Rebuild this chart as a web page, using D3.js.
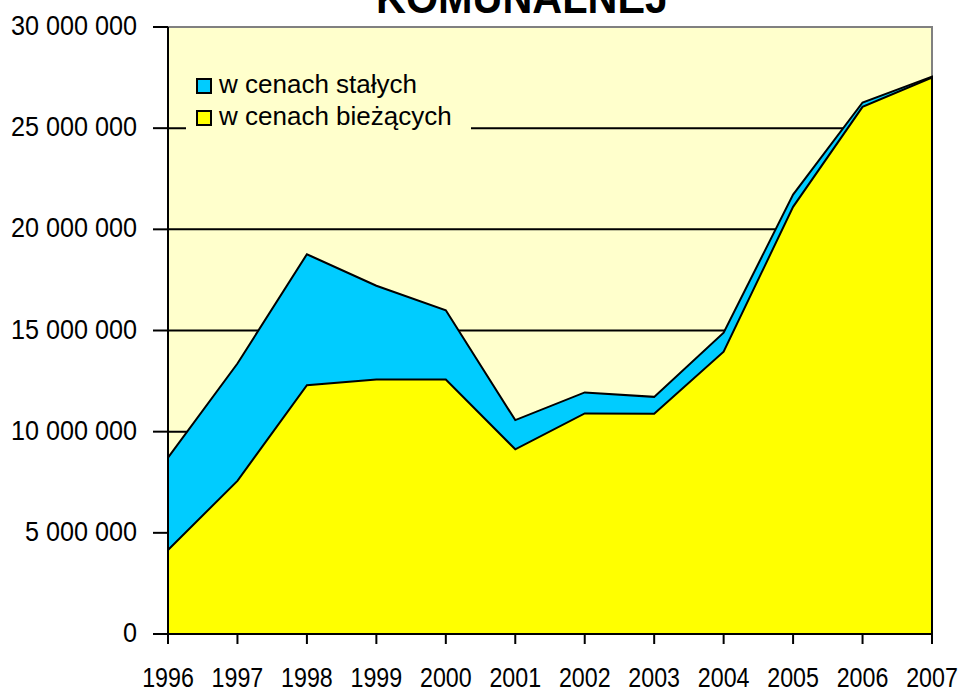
<!DOCTYPE html>
<html>
<head>
<meta charset="utf-8">
<script src="https://cdn.jsdelivr.net/npm/d3@7"></script>
<style>
  body { margin: 0; background: #fff; }
  text { font-family: "Liberation Sans", Arial, sans-serif; fill: #000; }
</style>
</head>
<body>
<script>
// dane (mln zł)
const years = [1996, 1997, 1998, 1999, 2000, 2001, 2002, 2003, 2004, 2005, 2006, 2007];
const stale = [8.72, 13.37, 18.77, 17.21, 16.0, 10.57, 11.94, 11.72, 14.89, 21.72, 26.27, 27.55];
const biezace = [4.15, 7.57, 12.3, 12.58, 12.58, 9.13, 10.9, 10.89, 13.95, 21.11, 26.05, 27.5];
const yTicks = [0, 5e6, 10e6, 15e6, 20e6, 25e6, 30e6];
const seriesNames = ["w cenach stałych", "w cenach bieżących"];
const colors = ["#00ccff", "#ffff00"];

const width = 962, height = 691;
const margin = {top: 27, right: 30, bottom: 57, left: 168};

const svg = d3.select("body").append("svg")
    .attr("width", width)
    .attr("height", height);

const x = d3.scalePoint()
    .domain(years)
    .range([margin.left, width - margin.right]);

const y = d3.scaleLinear()
    .domain([0, 30e6])
    .range([height - margin.bottom, margin.top]);

const pl = d3.formatLocale({decimal: ",", thousands: " ", grouping: [3], currency: ["", ""]});
const fmt = pl.format(",");

// tło obszaru wykresu
svg.append("rect")
    .attr("x", x(1996)).attr("y", y(30e6))
    .attr("width", x(2007) - x(1996))
    .attr("height", y(0) - y(30e6))
    .attr("fill", "#ffffcc");

// linie siatki
svg.append("g")
    .selectAll("line")
    .data(yTicks.filter(d => d > 0 && d < 30e6))
    .join("line")
      .attr("x1", x(1996)).attr("x2", x(2007))
      .attr("y1", d => y(d)).attr("y2", d => y(d))
      .attr("stroke", "#000")
      .attr("stroke-width", 2);

// obramowanie (góra i prawa)
svg.append("path")
    .attr("d", `M${x(1996)},${y(30e6)}H${x(2007)}V${y(0)}`)
    .attr("fill", "none")
    .attr("stroke", "#808080")
    .attr("stroke-width", 2);

const area = d3.area()
    .x((d, i) => x(years[i]))
    .y0(y(0))
    .y1(d => y(d * 1e6));

[stale, biezace].forEach((s, i) => {
  svg.append("path")
      .datum(s)
      .attr("d", area)
      .attr("fill", colors[i])
      .attr("stroke", "#000")
      .attr("stroke-width", 2)
      .attr("stroke-linejoin", "miter");
});

// legenda
const legend = svg.append("g");
legend.append("rect")
    .attr("x", 186).attr("y", 68)
    .attr("width", 285).attr("height", 68)
    .attr("fill", "#ffffcc");
seriesNames.forEach((name, i) => {
  const ly = 79 + i * 32;
  legend.append("rect")
      .attr("x", 197).attr("y", ly)
      .attr("width", 14).attr("height", 14)
      .attr("fill", colors[i])
      .attr("stroke", "#000")
      .attr("stroke-width", 2);
  legend.append("text")
      .attr("x", 219).attr("y", ly + 14)
      .attr("font-size", 26)
      .text(name);
});

// oś Y
const yAxis = svg.append("g");
yAxis.append("line")
    .attr("x1", x(1996)).attr("x2", x(1996))
    .attr("y1", y(30e6)).attr("y2", y(0))
    .attr("stroke", "#000").attr("stroke-width", 2);
const yt = yAxis.selectAll("g").data(yTicks).join("g");
yt.append("line")
    .attr("x1", x(1996) - 15).attr("x2", x(1996))
    .attr("y1", d => y(d)).attr("y2", d => y(d))
    .attr("stroke", "#000").attr("stroke-width", 2);
yt.append("text")
    .attr("transform", d => `translate(137,${y(d) + 8}) scale(0.9,1)`)
    .attr("text-anchor", "end")
    .attr("font-size", 28)
    .text(d => fmt(d));

// oś X
const xAxis = svg.append("g");
xAxis.append("line")
    .attr("x1", x(1996)).attr("x2", x(2007))
    .attr("y1", y(0)).attr("y2", y(0))
    .attr("stroke", "#000").attr("stroke-width", 2);
const xt = xAxis.selectAll("g").data(years).join("g");
xt.append("line")
    .attr("x1", d => x(d)).attr("x2", d => x(d))
    .attr("y1", y(0)).attr("y2", y(0) + 10)
    .attr("stroke", "#000").attr("stroke-width", 2);
xt.append("text")
    .attr("transform", d => `translate(${x(d)},687) scale(0.83,1)`)
    .attr("text-anchor", "middle")
    .attr("font-size", 28)
    .text(d => d);

// tytuł (ucięty u góry, jak na oryginale)
svg.append("text")
    .attr("x", 522).attr("y", 12.5)
    .attr("text-anchor", "middle")
    .attr("font-size", 44)
    .attr("font-weight", "bold")
    .attr("textLength", 292)
    .attr("lengthAdjust", "spacingAndGlyphs")
    .text("KOMUNALNEJ");
</script>
</body>
</html>
